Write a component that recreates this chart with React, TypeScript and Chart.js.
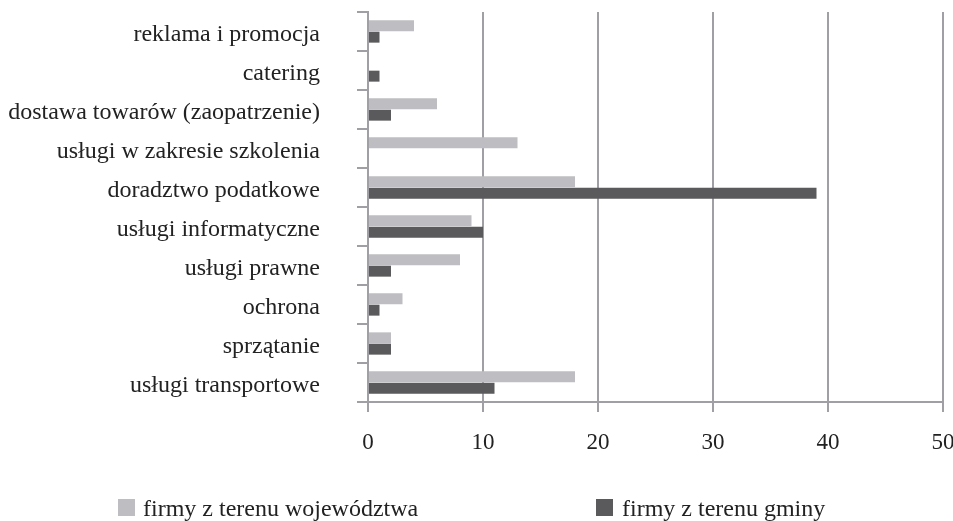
import React, { useEffect, useRef } from "react";
import { Chart, registerables } from "chart.js";

Chart.register(...registerables);

const categories = [
  "reklama i promocja",
  "catering",
  "dostawa towarów (zaopatrzenie)",
  "usługi w zakresie szkolenia",
  "doradztwo podatkowe",
  "usługi informatyczne",
  "usługi prawne",
  "ochrona",
  "sprzątanie",
  "usługi transportowe",
];

const seriesNames = ["firmy z terenu województwa", "firmy z terenu gminy"];
const wojewodztwa = [4, 0, 6, 13, 18, 9, 8, 3, 2, 18];
const gminy = [1, 1, 2, 0, 39, 10, 2, 1, 2, 11];
const xMin = 0;
const xMax = 50;
const xStep = 10;

const LIGHT = "#bebec2";
const DARK = "#5a5a5c";
const GRID = "#a0a0a4";
const TEXT = "#222222";
const FONT = "'Liberation Serif', 'Times New Roman', serif";

export default function App() {
  const ref = useRef<HTMLCanvasElement | null>(null);

  useEffect(() => {
    if (!ref.current) return;
    const chart = new Chart(ref.current, {
      type: "bar",
      data: {
        labels: categories,
        datasets: [
          { label: seriesNames[0], data: wojewodztwa, backgroundColor: LIGHT, borderWidth: 0 },
          { label: seriesNames[1], data: gminy, backgroundColor: DARK, borderWidth: 0 },
        ],
      },
      options: {
        indexAxis: "y",
        animation: false,
        responsive: false,
        maintainAspectRatio: false,
        layout: { padding: { top: 12, right: 10, bottom: 0, left: 0 } },
        datasets: { bar: { categoryPercentage: 0.58, barPercentage: 0.97 } },
        plugins: { legend: { display: false }, tooltip: { enabled: false } },
        scales: {
          x: {
            type: "linear",
            min: xMin,
            max: xMax,
            ticks: { stepSize: xStep, color: TEXT, font: { family: FONT, size: 23 }, padding: 17 },
            grid: { color: GRID, lineWidth: 2, drawTicks: true, tickLength: 10 },
            border: { display: true, color: GRID, width: 2 },
            afterFit: (s: any) => {
              s.height = 119;
              s.paddingRight = 10;
            },
          },
          y: {
            type: "category",
            offset: true,
            ticks: { color: TEXT, font: { family: FONT, size: 24 }, padding: 37, labelOffset: 3 },
            grid: { offset: true, drawOnChartArea: false, drawTicks: true, tickLength: 11, color: GRID, lineWidth: 2 },
            border: { display: true, color: GRID, width: 2 },
            afterFit: (s: any) => {
              s.width = 368;
              s.paddingTop = 0;
              s.paddingBottom = 0;
            },
          },
        },
      },
    });
    return () => chart.destroy();
  }, []);

  const legendText: React.CSSProperties = {
    position: "absolute",
    top: 496,
    fontFamily: FONT,
    fontSize: 24,
    lineHeight: "24px",
    color: TEXT,
    whiteSpace: "nowrap",
  };
  const box: React.CSSProperties = { position: "absolute", top: 499, width: 17, height: 17 };

  return (
    <div style={{ position: "absolute", left: 0, top: 0, width: 953, height: 521, background: "#fff", overflow: "hidden" }}>
      <canvas ref={ref} width={953} height={521} style={{ display: "block", width: 953, height: 521 }} />
      <div style={{ ...box, left: 118, background: LIGHT }} />
      <div style={{ ...legendText, left: 143 }}>{seriesNames[0]}</div>
      <div style={{ ...box, left: 596, background: DARK }} />
      <div style={{ ...legendText, left: 622 }}>{seriesNames[1]}</div>
    </div>
  );
}
